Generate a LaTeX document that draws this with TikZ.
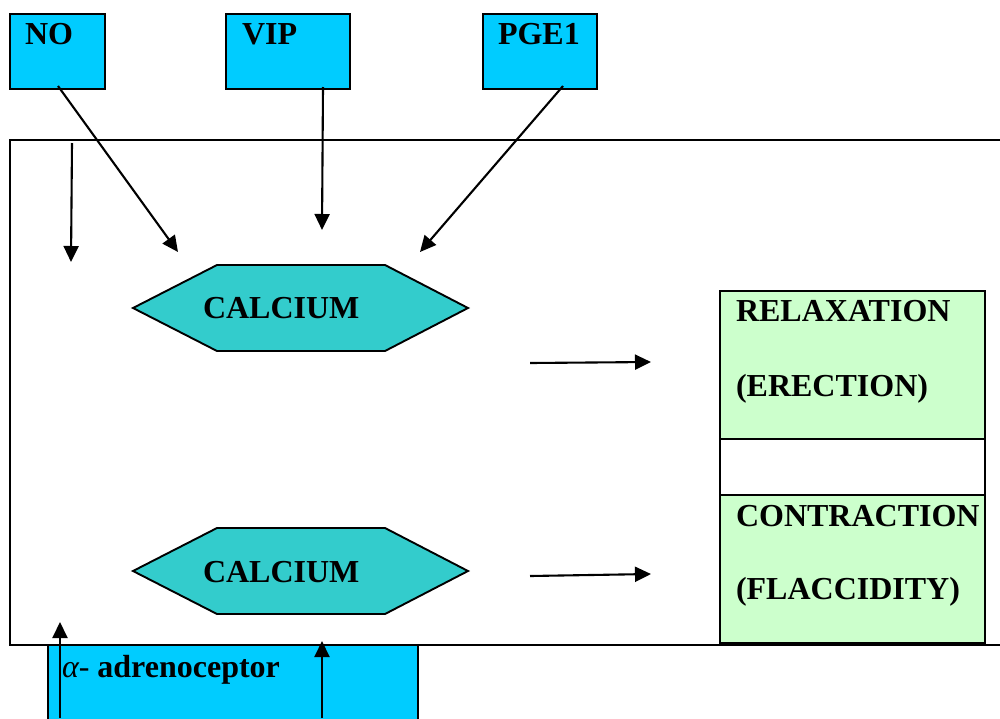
\documentclass[tikz,border=0pt]{standalone}
\usepackage{fontspec}
\setmainfont{Liberation Serif}
\usetikzlibrary{arrows.meta}
\definecolor{cyanbox}{HTML}{00CCFF}
\definecolor{tealhex}{HTML}{33CCCC}
\definecolor{greenbox}{HTML}{CCFFCC}
\begin{document}
\begin{tikzpicture}[x=1pt,y=-1pt,
  every node/.style={inner sep=0pt, outer sep=0pt},
  lbl/.style={anchor=base west, font=\fontsize{32}{38}\selectfont\bfseries},
  cbox/.style={draw=black, line width=2.3pt, fill=cyanbox},
  gbox/.style={draw=black, line width=2.3pt, fill=greenbox},
  wbox/.style={draw=black, line width=2.3pt, fill=white},
  hexa/.style={draw=black, line width=1.9pt, fill=tealhex},
  arr/.style={line width=2.1pt, -{Triangle[length=16pt,width=15pt]}}]
\useasboundingbox (0,0) rectangle (1000,718);
\fill[white] (0,0) rectangle (1000,718);

% top boxes
\draw[cbox] (10,14) rectangle (105,89);
\draw[cbox] (226,14) rectangle (350,89);
\draw[cbox] (483,14) rectangle (597,89);
\node[lbl] (tno) at (25,44) {NO};
\node[lbl] (tvip) at (242,44) {VIP};
\node[lbl] (tpge) at (498,44) {PGE1};

% alpha box
\draw[cbox] (48,645) rectangle (418,730);
\node[lbl] (talpha) at (62,677) {\textit{\mdseries α-} adrenoceptor};

% main cell
\draw[line width=2.3pt] (1010,140) -- (10,140) -- (10,645) -- (1010,645);

% hexagons
\draw[hexa] (133,308) -- (217,265) -- (385,265) -- (468,308) -- (385,351) -- (217,351) -- cycle;
\draw[hexa] (133,571) -- (217,528) -- (385,528) -- (468,571) -- (385,614) -- (217,614) -- cycle;
\node[lbl] (ca1) at (203,318) {CALCIUM};
\node[lbl] (ca2) at (203,582) {CALCIUM};

% right boxes
\draw[gbox] (720,291) rectangle (985,439);
\draw[wbox] (720,439) rectangle (985,495);
\draw[gbox] (720,495) rectangle (985,643);
\node[lbl] (rel) at (736,321) {RELAXATION};
\node[lbl] (ere) at (736,396) {(ERECTION)};
\node[lbl] (con) at (736,526) {CONTRACTION};
\node[lbl] (fla) at (736,599) {(FLACCIDITY)};

% arrow coordinates
\coordinate (a1s) at (72,143);   \coordinate (a1e) at (71,262);
\coordinate (a2s) at (58,86);    \coordinate (a2e) at (178,252);
\coordinate (a3s) at (323,87);   \coordinate (a3e) at (322,230);
\coordinate (a4s) at (563,86);   \coordinate (a4e) at (420,252);
\coordinate (a5s) at (530,363);  \coordinate (a5e) at (651,362);
\coordinate (a6s) at (530,576);  \coordinate (a6e) at (651,574);
\coordinate (a7s) at (60,718);   \coordinate (a7e) at (60,622);
\coordinate (a8s) at (322,718);  \coordinate (a8e) at (322,641);

\draw[arr] (a1s) -- (a1e);
\draw[arr] (a2s) -- (a2e);
\draw[arr] (a3s) -- (a3e);
\draw[arr] (a4s) -- (a4e);
\draw[arr] (a5s) -- (a5e);
\draw[arr] (a6s) -- (a6e);
\draw[arr] (a7s) -- (a7e);
\draw[arr] (a8s) -- (a8e);
\end{tikzpicture}
\end{document}
